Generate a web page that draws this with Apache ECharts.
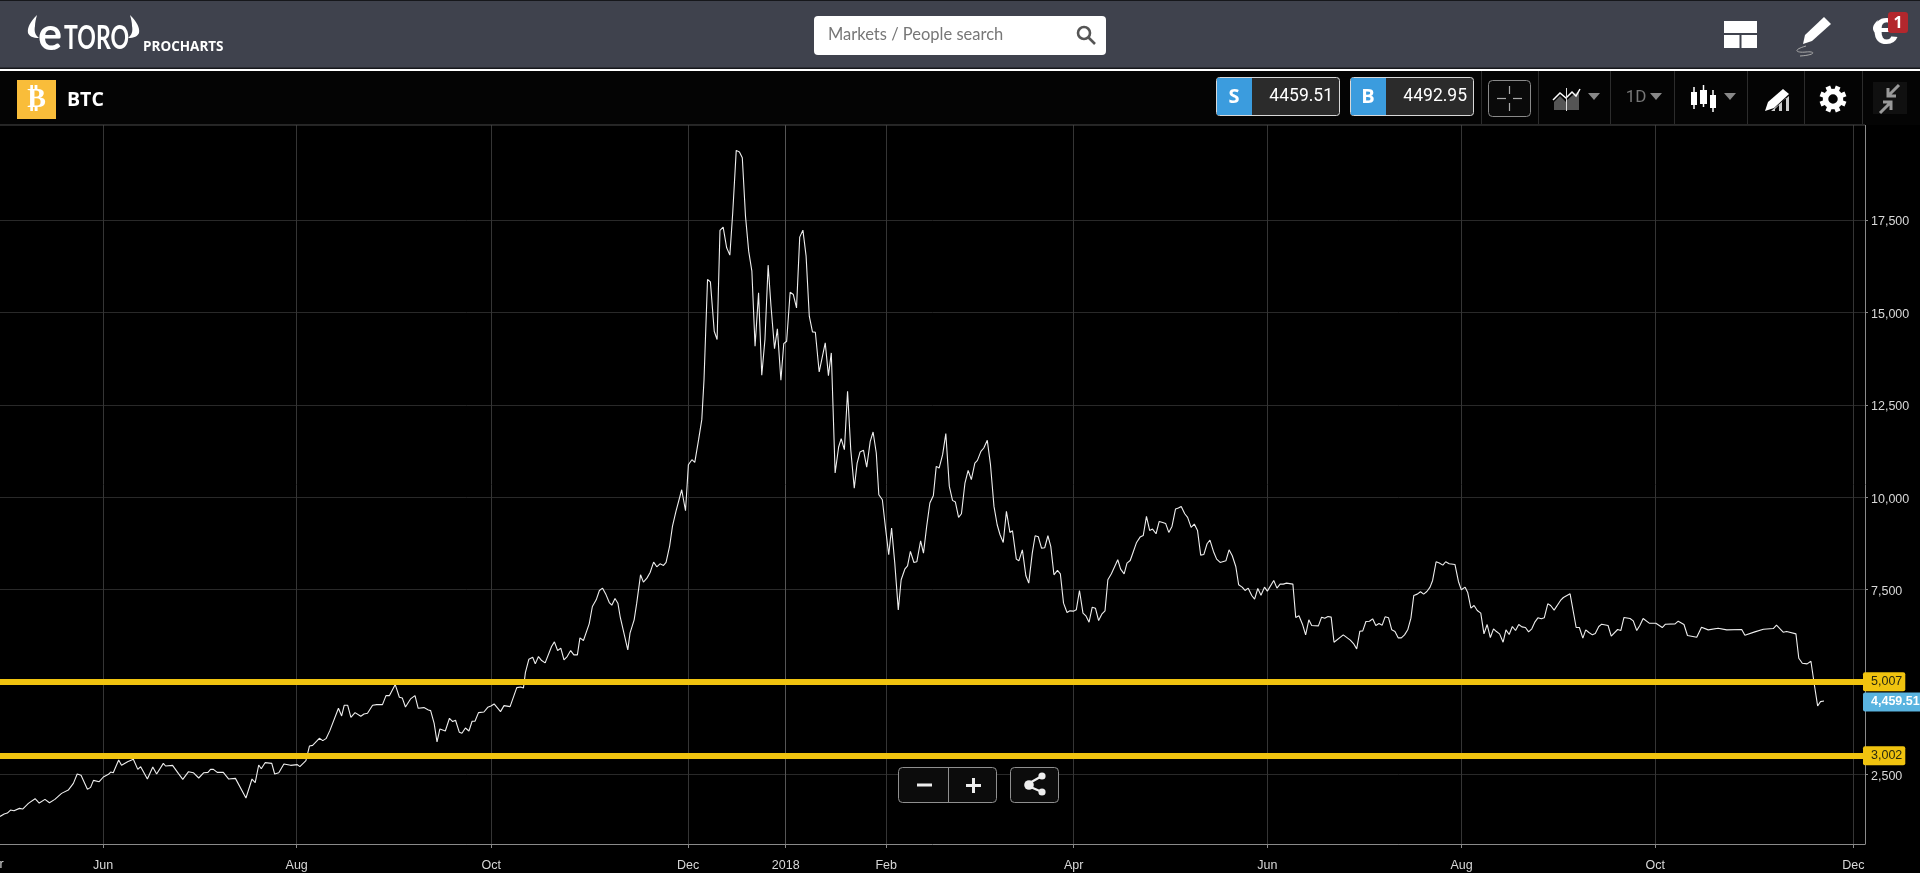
<!DOCTYPE html>
<html>
<head>
<meta charset="utf-8">
<style>html,body{margin:0;padding:0;background:#000;overflow:hidden}#c{width:1920px;height:873px}</style>
<script src="https://cdn.jsdelivr.net/npm/echarts@6/dist/echarts.min.js"></script>
</head>
<body>
<div id="c"></div>
<script>
// Days counted from 1 June 2017, with the BTC close at each turning point.
const days = [
-32.3,-31,-30,-29,-27.9,-26.2,-25.2,-23.4,-21.3,-20,-18.2,-16.8,-15.1,-13,-10.9,-9.3,-8.1,-6.9,-4.9,-3.9,-3,-1.2,
0.1,1.7,2.4,3.2,4.9,5.8,7.7,9.5,10,10.9,11.8,13.9,15.6,16.8,18.9,19.6,21.8,23.6,25,26.8,28.3,30,31.6,32.9,33.7,34.6,35.8,37.7,39.4,41.5,44.8,46.7,47.7,48.8,49.6,50.8,52.9,53.8,55.1,56.7,58.8,
60.9,61.7,63.6,64.7,65.7,67.8,68.9,69.9,71.1,73.8,74.8,75.6,76.7,77.7,79,80.8,81.8,82.9,84.5,85.8,87.6,88.7,89.8,91.6,92.9,93.8,94.8,96.4,97.8,98.8,100.6,102,102.7,103.8,104.7,105.6,107.3,108.6,109.6,110.5,111.7,112.5,113.6,114.7,115.7,116.6,117.7,119.4,120.6,
121.6,122.6,124.6,125.7,127.6,129.7,130.9,131.8,132.4,133.5,134.7,135.5,136.5,137.5,138.6,140.6,141.5,142.5,143.5,144.5,145.5,146.6,147.6,148.7,149.5,150.6,152.4,
153.4,154.6,155.6,156.6,157.7,158.7,159.5,160.5,161.4,162.1,164.5,165.2,166.5,167.3,168.5,169.4,170.5,171.5,172.6,173.6,174.6,175.7,176.5,177.6,178.5,179.6,181.4,182.6,183.5,184.6,185.5,186.7,
187.7,188.4,189.5,190.4,191.6,192.5,193.4,194.4,195.5,196.5,197.4,198.5,199.5,200.4,201.4,202.4,203.4,204.4,205.5,206.5,207.5,208.5,209.4,210.5,211.4,212.5,213.4,214.3,215.4,216.4,217.4,218.4,219.4,220.4,221.4,222.4,223.3,224.5,226.4,227.4,228.3,228.8,
229.5,230.6,231.4,232.4,233.4,234.4,235.5,236.4,237.3,238.4,239.4,240.5,241.4,242.4,243.2,244.3,245.3,246.3,247.2,248.2,249.3,250.2,251.4,252.2,253.1,254.2,255.1,256.3,257.2,258.2,259.2,260.3,261.2,262.1,263.2,264.2,265.3,266.3,267.2,268.2,269.1,270.2,271.2,272.2,273.3,274.1,275.2,276.1,277.2,278.2,279.3,280.3,281.2,282.2,283.2,284.3,285.1,286.3,287.1,288.2,289.3,290.2,291.3,292.2,293.2,294.2,295.2,296.2,297.1,
298.1,299.2,300.1,301.1,302.2,303.1,304.2,305.1,306.1,307.2,308.1,309.1,310.1,311.1,312.1,313.1,314.1,315,316.1,318.1,319,320.1,321,322,323,324,325.1,326.1,327.1,328.1,329,330.1,331.1,332.2,333.1,334.1,335.1,336.2,337.1,338,339.1,340,341.1,342.1,343.1,344.1,345.1,346.1,347,348.1,349.1,350.2,352,353,354,355.1,356,357.1,358,359,360.1,361,362,363,
364.1,365,367,368,369,370,371,373,373.9,374.9,376,377,378,378.9,381,382,383,384,385,385.9,388.8,391,392,393,394,394.9,395.9,397,398,399,400,401,401.9,403,404,405,406,407,408,409,410,410.9,412,413,414,415,416,416.8,417.9,418.9,420,420.9,422,423.8,424.9,425.8,427,427.8,428.8,429.8,430.8,431.9,432.9,433.9,434.9,435.9,436.8,437.8,438.9,439.8,440.8,441.8,442.8,443.8,444.8,445.9,446.9,447.9,448.9,449.8,450.9,451.8,452.9,453.8,454.9,456.9,457.8,459.9,461.8,462.8,463.9,464.8,465.8,466.9,467.8,468.9,469.8,471.8,472.8,474.8,475.8,476.8,478.7,479.7,480.8,481.8,482.8,484.7,
486.8,488.8,489.8,492.8,493.8,495.6,496.7,499.6,501.1,503.2,506.3,509,513.7,514.7,517.8,520.5,523.6,524.6,526.7,527.8,530.7,531.6,532.7,534.2,535.4,536.4,537.5,538.4,539.5
];
const closes = [
1361,1424,1451,1533,1515,1578,1560,1713,1840,1722,1822,1731,1822,1984,2074,2255,2508,2472,2093,2147,2336,2300,
2427,2499,2562,2544,2887,2743,2842,2905,2959,2634,2707,2372,2698,2508,2797,2725,2743,2526,2363,2571,2544,2400,2544,2553,2634,2634,2553,2553,2372,2390,1858,2372,2273,2752,2652,2815,2797,2508,2544,2779,2743,
2761,2707,2869,3266,3284,3474,3411,3465,3682,4287,4079,4368,4368,4043,4169,4070,4133,4151,4368,4386,4386,4630,4630,4928,4585,4567,4323,4540,4630,4287,4305,4242,4224,3880,3375,3727,3673,4016,3926,3962,3637,3610,3754,3673,3935,3935,4169,4187,4314,
4350,4405,4197,4359,4332,4847,4865,4838,5253,5615,5669,5488,5687,5579,5515,5958,6084,5849,5913,5597,5687,5849,5732,5732,6193,6120,6572,
7041,7222,7474,7538,7357,7149,7077,7258,7131,6770,5867,6319,6680,7131,7899,7700,7809,7962,8242,8116,8197,8152,8233,8666,9208,9615,10201,9633,10879,11014,10942,11556,
12098,13182,15891,15827,14491,14265,17218,17308,16748,16550,17697,19385,19340,19187,17606,16658,16116,14085,15529,13299,14265,16279,15168,14021,14554,13164,14157,14220,15547,15484,15123,17037,17227,16523,14897,14473,14464,13389,14175,13290,13904,12549,
10653,11357,11583,11285,12865,11285,10246,10924,11222,11267,10815,11511,11763,11195,10066,9931,9163,8441,9163,8215,6951,7764,8062,8143,8531,8233,8251,8820,8486,9209,9841,10048,10834,10789,11150,11719,10292,9913,9868,9452,9552,10382,10726,10473,10924,10997,11240,11331,11538,10879,9750,9254,8983,8775,9615,9046,9091,8324,8278,8576,7872,7673,8486,8956,8929,8622,8631,8956,8667,
7899,8017,7926,7132,6879,6924,6915,6951,7475,6861,6789,6617,7023,6996,6662,6834,6924,7764,7926,8306,8053,7926,8215,8287,8531,8775,8920,8965,9480,9100,9136,9010,9344,9317,9290,9046,9209,9678,9705,9750,9552,9452,9182,9272,9100,8432,8450,8739,8838,8531,8324,8233,8278,8576,8414,8125,7629,7565,7475,7538,7339,7240,7529,7348,
7565,7457,7746,7538,7647,7647,7674,7647,6744,6789,6563,6274,6680,6527,6518,6753,6726,6771,6753,6075,6274,6130,6039,5895,6373,6382,6635,6644,6708,6527,6581,6536,6762,6735,6410,6365,6193,6193,6274,6410,6726,7340,7376,7439,7376,7448,7565,7746,8252,8216,8161,8252,8198,8179,7719,7493,7565,7421,6996,7069,6933,6861,6301,6554,6202,6437,6364,6301,6075,6410,6283,6500,6391,6554,6491,6473,6355,6437,6626,6735,6708,6735,7114,7069,6942,7204,7285,7385,6473,6473,6184,6410,6337,6274,6310,6500,6563,6527,6238,6419,6391,6744,6717,6653,6391,6536,6717,6590,
6590,6472,6563,6572,6644,6554,6256,6210,6481,6409,6454,6409,6418,6265,6355,6427,6445,6535,6346,6364,6301,5642,5506,5488,5560,4964,4350,4468,4486
];
// Month ticks, in the same day count, as they sit in the picture.
const monthTickDays = [0,60.7,121.7,183.4,214,245.5,304.3,365,425.9,486.6,548.7];
const monthLabels = ['Jun','Aug','Oct','Dec','2018','Feb','Apr','Jun','Aug','Oct','Dec'];
const clippedFirstMonth = 'Apr';
const priceTicks = [2500,5000,7500,10000,12500,15000,17500];
const supportLevels = [5007,3002];
const lastPrice = 4459.51;
const sellPrice = '4459.51';
const buyPrice = '4492.95';

const Z = 20;
let pathCount = 0;
const T = (text,x,y,font,fill,align='left') => ({type:'text',z:Z+1,silent:true,style:{text,x,y,font,fill,textAlign:align,textVerticalAlign:'middle'}});
const R = (x,y,w,h,fill,stroke,r=0,lw=1) => ({type:'rect',z:Z,silent:true,shape:{x,y,width:w,height:h,r},style:{fill:fill||'transparent',stroke:stroke||null,lineWidth:lw}});
const L = (x1,y1,x2,y2,stroke,lw=1) => ({type:'line',z:Z+1,silent:true,shape:{x1,y1,x2,y2},style:{stroke,lineWidth:lw}});
const P = (d,fill,stroke,lw=1) => {
  const name = 'uiPath' + (pathCount++);
  echarts.graphic.registerShape(name, echarts.graphic.extendPath(d));
  return {type:name,z:Z+1,silent:true,style:{fill:fill||'transparent',stroke:stroke||null,lineWidth:lw}};
};
const TRI = (x,y,c) => P(`M${x-6} ${y-3}L${x+6} ${y-3}L${x} ${y+4}Z`,c);
const gearTeeth = [0,1,2,3,4,5,6,7].map(i => {
  const a = i*Math.PI/4 + Math.PI/8;
  return L(1833+Math.cos(a)*8,99+Math.sin(a)*8,1833+Math.cos(a)*13.5,99+Math.sin(a)*13.5,'#fff',5);
});

const ui = [
 // top bar
 R(0,0,1920,68,'#3f424d'), R(0,0,1920,1,'#16171b'), R(0,67.5,1920,1.5,'#16171b'), R(0,69,1920,2,'#ffffff'),
 // toolbar
 R(0,71,1920,54,'#040404'), R(0,124.5,1865,1,'#4a4a4a'),
 // logo
 P('M37 15C30 22 27 28 28 33C29 36 33 38 39 38C35 35 34 31 35 26C35 22 36 19 37 15Z','#fff'),
 P('M130 15C137 22 140 28 139 33C138 36 134 38 128 38C132 35 133 31 132 26C132 22 131 19 130 15Z','#fff'),
 T('e',38,35,'700 45px Lato','#fff'),
 {type:'text',z:Z+1,silent:true,x:64,y:39,scaleX:0.72,style:{text:'TORO',x:0,y:0,font:'700 32px Lato',fill:'#fff',textAlign:'left',textVerticalAlign:'middle'}},
 T('PROCHARTS',143,47,'700 13.5px "Open Sans"','#fff'),
 // search
 R(814,16,292,39,'#fff',null,4),
 T('Markets / People search',828,35,'400 16.5px Lato','#777'),
 P('M1084 27a6 6 0 1 0 0.01 0ZM1089 38l6 6','transparent','#555',2.6),
 // top-right icons
 R(1724,21,33,12,'#fff'), R(1724,35,15.5,13,'#fff'), R(1741.5,35,15.5,13,'#fff'),
 P('M1824 17L1831 24L1812 41L1803 44L1805 35Z','#fff'),
 P('M1806 46C1792 50 1796 53 1806 52C1816 51 1816 55 1800 56','transparent','#aaa',1),
 T('e',1886,31,'700 48px "Liberation Sans"','#fff','center'),
 P('M1878 20C1872 25 1871 31 1877 34C1876 29 1876 25 1878 20Z','#fff'),
 {...R(1888,12,20,21,'#b3272d',null,3),z:Z+2}, {...T('1',1898,23,'700 16px "Open Sans"','#fff','center'),z:Z+3},
 // BTC
 R(17,80,39,39,'#f9bd3a'),
 T('\u20BF',36.5,99.5,'700 28px "DejaVu Sans"','#fff','center'),
 T('BTC',67,100.5,'700 19.5px "Open Sans"','#fff'),
 // sell and buy boxes
 R(1216.5,77.5,123,38,'#2b2b2b','#d8d8d8',3), R(1217,78,35,37,'#3b9cde'),
 T('S',1234,97,'700 20px "Open Sans"','#fff','center'), T(sellPrice,1333,97,'400 17.5px Roboto','#fff','right'),
 R(1350.5,77.5,123,38,'#2b2b2b','#d8d8d8',3), R(1351,78,35,37,'#3b9cde'),
 T('B',1368,97,'700 20px "Open Sans"','#fff','center'), T(buyPrice,1467,97,'400 17.5px Roboto','#fff','right'),
 // separators
 ...[1481,1538,1610,1674,1747,1804,1862].map(x=>L(x+.5,71,x+.5,124,'#2c2c2c')),
 // crosshair
 R(1488.5,80.5,42,36,'#0a0a0a','#8a8a8a',4),
 L(1497,98.5,1506,98.5,'#aaa',1.2), L(1513,98.5,1522,98.5,'#aaa',1.2), L(1509.5,86,1509.5,94,'#aaa',1.2), L(1509.5,103,1509.5,111,'#aaa',1.2),
 // chart type
 P('M1554 102L1560 96L1566 102V110H1554Z','#555'), P('M1567 100L1573 95L1579 91V110H1567Z','#555'),
 P('M1553 100L1560 93L1566 98L1572 92L1576 96L1580 89','transparent','#fff',1.5), L(1566.5,88,1566.5,111,'#ddd',1),
 TRI(1594,96,'#888'),
 T('1D',1636,98,'400 17px Roboto','#777','center'), TRI(1656,96,'#888'),
 // candles
 L(1694,87,1694,109,'#fff',1.5), {...R(1691,92,6,13,'#fff'),z:Z+1}, L(1703.5,85,1703.5,107,'#fff',1.5), {...R(1700,90,7,14,'#fff'),z:Z+1}, L(1713,90,1713,112,'#fff',1.5), {...R(1710,95,6,13,'#fff'),z:Z+1},
 TRI(1730,96,'#888'),
 // drawing
 P('M1783 89L1789 94L1774 108L1765 111L1768 102Z','#fff'), P('M1771 111H1775V109L1779 105V111H1782V102L1786 98V111H1789V96Z','#ccc'),
 // settings
 {type:'circle',z:Z+1,silent:true,shape:{cx:1833,cy:99,r:7.5},style:{fill:'transparent',stroke:'#fff',lineWidth:5.5}},
 ...gearTeeth,
 // compress
 R(1873,82,34,32,'#101010'),
 P('M1899 85L1888 96M1888 88V96H1896','transparent','#999',3),
 P('M1880 113L1891 102M1891 110V102H1883','transparent','#999',3),
 // zoom and share buttons
 R(898.5,767.5,98,35,'#0c0c0c','#8f8f8f',4), L(948.5,768,948.5,802,'#8f8f8f'),
 R(1010.5,767.5,48,35,'#0c0c0c','#8f8f8f',4),
 {...R(917,783.5,15,3,'#eee'),z:Z+1}, {...R(966,784,15,3,'#eee'),z:Z+1}, {...R(972,778,3,15,'#eee'),z:Z+1},
 P('M1026 785L1042 776M1026 785L1042 792','transparent','#eee',2.2),
 {type:'circle',z:Z+1,silent:true,shape:{cx:1029,cy:785,r:4.8},style:{fill:'#eee'}},
 {type:'circle',z:Z+1,silent:true,shape:{cx:1042,cy:776,r:3.6},style:{fill:'#eee'}},
 {type:'circle',z:Z+1,silent:true,shape:{cx:1042,cy:792,r:3.6},style:{fill:'#eee'}},
 // the month label that is cut by the left edge
 T(clippedFirstMonth,-6,864.5,'12.5px "Liberation Sans"','#d8d8d8','center'),
];

const priceFmt = v => v.toLocaleString('en-US');
const splitColors = monthLabels.map(m => m==='2018' ? '#555' : '#353535');
const levelLabel = {show:true,position:'end',distance:-2,color:'#2a2a10',fontSize:12.5,fontFamily:'"Liberation Sans"',backgroundColor:'#f0c30f',borderRadius:2,padding:[4,3,2,8],lineHeight:13};

const chart = echarts.init(document.getElementById('c'),null,{renderer:'canvas',width:1920,height:873});
chart.setOption({
 animation:false,
 backgroundColor:'#000',
 grid:{left:0,top:125,width:1865,height:719,containLabel:false},
 xAxis:{type:'value',min:-32.3,max:552.35,
  axisLine:{show:true,onZero:false,lineStyle:{color:'#8a8a8a',width:1}},
  axisTick:{show:true,length:4,customValues:monthTickDays,lineStyle:{color:'#8a8a8a'}},
  axisLabel:{show:true,customValues:monthTickDays,margin:15,color:'#d8d8d8',fontSize:12.5,fontFamily:'"Liberation Sans"',
   formatter:v=>monthLabels[monthTickDays.indexOf(v)]},
  splitLine:{show:true,lineStyle:{color:splitColors,width:1}}},
 yAxis:{type:'value',position:'right',min:614,max:20072,
  axisLine:{show:true,onZero:false,lineStyle:{color:'#8a8a8a',width:1}},
  axisTick:{show:true,length:3,customValues:priceTicks,lineStyle:{color:'#8a8a8a'}},
  axisLabel:{show:true,customValues:priceTicks,margin:6,verticalAlign:'top',lineHeight:4,color:'#d8d8d8',fontSize:12.5,fontFamily:'"Liberation Sans"',formatter:v=>priceFmt(v)},
  splitLine:{show:true,lineStyle:{color:'#292929',width:1}}},
 series:[{type:'line',data:days.map((d,i)=>[d,closes[i]]),showSymbol:false,symbol:'none',
  lineStyle:{color:'#eeeeee',width:1.1},
  markLine:{silent:true,symbol:'none',animation:false,
   data:[
    ...supportLevels.map(v=>({yAxis:v,lineStyle:{color:'#f0c30f',width:6,type:'solid',opacity:1},label:{...levelLabel,formatter:priceFmt(v)}})),
    {yAxis:lastPrice,lineStyle:{color:'rgba(0,0,0,0)',width:1,type:'solid',opacity:1},label:{...levelLabel,backgroundColor:'#5ab4e0',color:'#fff',fontWeight:'bold',padding:[4,2,2,8],formatter:lastPrice.toLocaleString('en-US',{minimumFractionDigits:2})}}
   ]}}],
 graphic:{elements:ui}
});
</script>
</body>
</html>
